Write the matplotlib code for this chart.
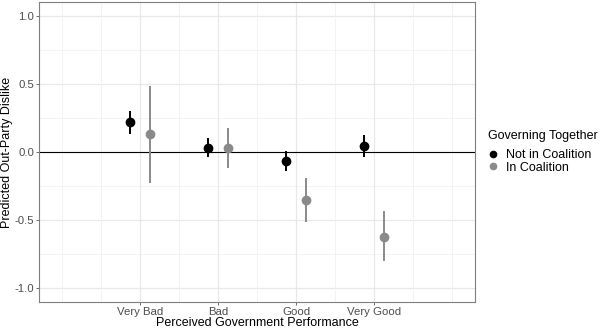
import matplotlib
matplotlib.use("Agg")
import matplotlib.pyplot as plt
import numpy as np

plt.rcParams['font.family'] = ['Liberation Sans', 'DejaVu Sans']

# data
categories = ["Very Bad", "Bad", "Good", "Very Good"]
groups = ["Not in Coalition", "In Coalition"]
colors = ["#000000", "#8a8a8a"]

est_not = [0.218, 0.032, -0.068, 0.044]
lo_not = [0.132, -0.039, -0.137, -0.039]
hi_not = [0.298, 0.103, 0.005, 0.125]

est_in = [0.130, 0.032, -0.352, -0.620]
lo_in = [-0.225, -0.120, -0.515, -0.803]
hi_in = [0.486, 0.176, -0.188, -0.435]

x = np.arange(1, len(categories) + 1)
dodge = 0.128

fig = plt.figure(figsize=(6, 3.3), dpi=100)
ax = fig.add_axes([0.065, 0.085, 0.727, 0.909])

# grid like theme_bw
for v in [-0.75, -0.25, 0.25, 0.75]:
    ax.axhline(v, color="#f1f1f1", lw=0.6, zorder=0)
for v in [-1, -0.5, 0, 0.5, 1]:
    ax.axhline(v, color="#e8e8e8", lw=0.9, zorder=0)
for v in [0, 0.5, 1.5, 2.5, 3.5, 4.5, 5]:
    ax.axvline(v, color="#f1f1f1", lw=0.6, zorder=0)
for v in x:
    ax.axvline(v, color="#e8e8e8", lw=0.9, zorder=0)

ax.axhline(0, color="black", lw=0.8, zorder=1)

series = [(est_not, lo_not, hi_not), (est_in, lo_in, hi_in)]
for i, (est, lo, hi) in enumerate(series):
    xs = x + (-dodge if i == 0 else dodge)
    ax.vlines(xs, lo, hi, color=colors[i], lw=1.4, zorder=2)
    ax.plot(xs, est, "o", color=colors[i], ms=6, zorder=3, label=groups[i])

ax.set_xlim(-0.3, 5.3)
ax.set_ylim(-1.1, 1.1)
ax.set_xticks(x)
ax.set_xticklabels(categories)
ax.set_yticks([-1, -0.5, 0, 0.5, 1])
ax.set_yticklabels(["-1.0", "-0.5", "0.0", "0.5", "1.0"])
ax.tick_params(labelsize=8.2, labelcolor="#4d4d4d", color="#333333",
               length=2, width=0.5, pad=1.5)
for s in ax.spines.values():
    s.set_color("#7f7f7f")
    s.set_linewidth(0.8)

ax.set_xlabel("Perceived Government Performance", fontsize=9, labelpad=0)
ax.set_ylabel("Predicted Out-Party Dislike", fontsize=9, labelpad=1)

leg = ax.legend(title="Governing Together", loc="center left",
                bbox_to_anchor=(1.01, 0.5), frameon=False, fontsize=9,
                title_fontsize=9, handletextpad=0.6, labelspacing=0.05,
                handlelength=0.8, borderaxespad=0.3)
leg._legend_box.align = "left"
leg._legend_box.sep = 5
for h in leg.legend_handles:
    h.set_markersize(4.5)

fig.savefig("out.png", dpi=100)
